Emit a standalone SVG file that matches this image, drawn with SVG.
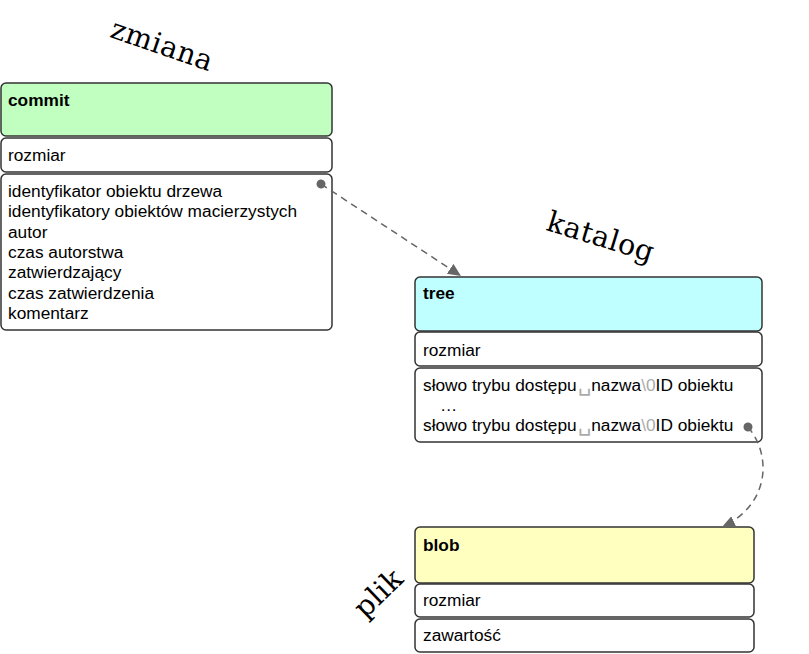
<svg xmlns="http://www.w3.org/2000/svg" width="809" height="654" viewBox="0 0 809 654">
<style>
.box{stroke:#333;stroke-width:1.5}
.sec{fill:#fff;stroke:#333;stroke-width:1.5}
.t{font-family:"Liberation Sans",Arial,sans-serif;font-size:17.3px;fill:#000}
.b{font-weight:bold}
.g{fill:#aaa}
.lbl{font-family:"DejaVu Serif","Liberation Serif",serif;font-size:28.5px;letter-spacing:0.5px;fill:#000}
.conn{fill:none;stroke:#666;stroke-width:1.5;stroke-dasharray:7,5}
</style>
<defs>
<marker id="arr" markerUnits="userSpaceOnUse" markerWidth="16" markerHeight="14" refX="13" refY="6" orient="auto">
<path d="M0,0 L13,6 L0,12 Z" fill="#666"/>
</marker>
<marker id="dot" markerUnits="userSpaceOnUse" markerWidth="12" markerHeight="12" refX="6" refY="6" orient="auto">
<circle cx="6" cy="6" r="4.5" fill="#666"/>
</marker>
</defs>
<rect width="809" height="654" fill="#fff"/>

<g id="commit">
<rect class="box" x="1" y="83" width="331" height="53" rx="5" fill="#c0ffc0"/>
<rect class="sec" x="1" y="138" width="331" height="34" rx="5"/>
<rect class="sec" x="1" y="174" width="331" height="156" rx="5"/>
<text class="t b" x="8" y="106">commit</text>
<text class="t" x="8" y="161">rozmiar</text>
<text class="t" x="8" y="197">identyfikator obiektu drzewa</text>
<text class="t" x="8" y="217.3">identyfikatory obiektów macierzystych</text>
<text class="t" x="8" y="237.6">autor</text>
<text class="t" x="8" y="257.9">czas autorstwa</text>
<text class="t" x="8" y="278.2">zatwierdzający</text>
<text class="t" x="8" y="298.5">czas zatwierdzenia</text>
<text class="t" x="8" y="318.8">komentarz</text>
</g>

<g id="tree">
<rect class="box" x="415" y="277" width="347" height="54" rx="5" fill="#c0ffff"/>
<rect class="sec" x="415" y="332" width="347" height="34" rx="5"/>
<rect class="sec" x="415" y="368" width="347" height="74" rx="5"/>
<text class="t b" x="423" y="299">tree</text>
<text class="t" x="423" y="356">rozmiar</text>
<text class="t" x="423" y="391">słowo trybu dostępu<tspan class="g" dx="1" font-size="21">␣</tspan><tspan dx="0.5">nazwa</tspan><tspan class="g">\0</tspan>ID obiektu</text>
<text class="t" x="440" y="411">…</text>
<text class="t" x="423" y="431">słowo trybu dostępu<tspan class="g" dx="1" font-size="21">␣</tspan><tspan dx="0.5">nazwa</tspan><tspan class="g">\0</tspan>ID obiektu</text>
</g>

<g id="blob">
<rect class="box" x="415" y="527" width="339" height="56" rx="5" fill="#ffffc0"/>
<rect class="sec" x="415" y="584" width="339" height="33" rx="5"/>
<rect class="sec" x="415" y="619" width="339" height="33" rx="5"/>
<text class="t b" x="423" y="551">blob</text>
<text class="t" x="423" y="606">rozmiar</text>
<text class="t" x="423" y="641">zawartość</text>
</g>

<g id="labels">
<text class="lbl" text-anchor="middle" transform="translate(159,54) rotate(19)">zmiana</text>
<text class="lbl" text-anchor="middle" transform="translate(598,246) rotate(17)">katalog</text>
<text class="lbl" text-anchor="middle" transform="translate(385,600) rotate(-44)">plik</text>
</g>

<g id="connectors">
<path class="conn" d="M321,184 L461,276" marker-start="url(#dot)" marker-end="url(#arr)"/>
<path class="conn" d="M748,427 C772,455 770,505 722,527" marker-start="url(#dot)" marker-end="url(#arr)"/>
</g>
</svg>
